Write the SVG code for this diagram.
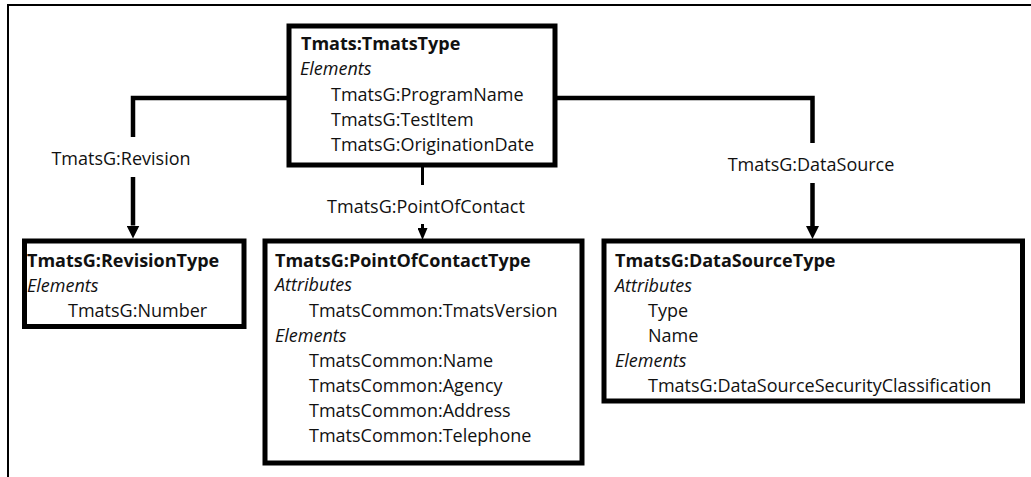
<svg xmlns="http://www.w3.org/2000/svg" width="1031" height="477" viewBox="0 0 1031 477">
<style>
.bg{fill:#fff}
.frame{fill:none;stroke:#000;stroke-width:2}
.box{fill:#fff;stroke:#000;stroke-width:5}
.t{font-family:"Open Sans","Noto Sans",sans-serif;font-size:18px;fill:#111}
.b{font-weight:bold}
.i{font-style:italic}
.lbl{text-anchor:middle}
.conn{fill:none;stroke:#000;stroke-width:4.5;stroke-linejoin:miter}
.thin{stroke-width:3}
</style>
<defs>
<marker id="arr" markerUnits="userSpaceOnUse" markerWidth="13" markerHeight="13" viewBox="0 0 13 13" refX="0" refY="6.5" orient="auto">
<path d="M0,0 L13,6.5 L0,13 Z" fill="#000"/>
</marker>
<marker id="arrs" markerUnits="userSpaceOnUse" markerWidth="12" markerHeight="10" viewBox="0 0 12 10" refX="0" refY="5" orient="auto">
<path d="M0,0 L12,5 L0,10 Z" fill="#000"/>
</marker>
</defs>
<rect class="bg" x="0" y="0" width="1031" height="477"/>
<path class="frame" d="M8,477 V5 H1031"/>

<g id="connectors">
<path class="conn" d="M289,98 H133 V137"/>
<path class="conn" d="M133,177 V225.5" marker-end="url(#arr)"/>
<text class="t lbl" x="121" y="165">TmatsG:Revision</text>
<path class="conn thin" d="M422.5,165 V185"/>
<path class="conn thin" d="M422.5,224 V228" marker-end="url(#arrs)"/>
<text class="t lbl" x="426" y="213">TmatsG:PointOfContact</text>
<path class="conn" d="M555,98 H812.5 V143"/>
<path class="conn" d="M812.5,183 V226" marker-end="url(#arr)"/>
<text class="t lbl" x="811" y="171">TmatsG:DataSource</text>
</g>

<g id="node-tmatstype">
<rect class="box" x="289" y="26" width="266" height="139"/>
<text class="t b" x="301" y="50">Tmats:TmatsType</text>
<text class="t i" x="300" y="75">Elements</text>
<text class="t" x="331" y="101">TmatsG:ProgramName</text>
<text class="t" x="331" y="126">TmatsG:TestItem</text>
<text class="t" x="331" y="151">TmatsG:OriginationDate</text>
</g>

<g id="node-revisiontype">
<rect class="box" x="24.5" y="241" width="219.5" height="85.5"/>
<text class="t b" x="27" y="267">TmatsG:RevisionType</text>
<text class="t i" x="27" y="292">Elements</text>
<text class="t" x="68" y="317">TmatsG:Number</text>
</g>

<g id="node-pointofcontacttype">
<rect class="box" x="265" y="241" width="317" height="222"/>
<text class="t b" x="275" y="267">TmatsG:PointOfContactType</text>
<text class="t i" x="275" y="291">Attributes</text>
<text class="t" x="309" y="317">TmatsCommon:TmatsVersion</text>
<text class="t i" x="275" y="342">Elements</text>
<text class="t" x="309" y="367">TmatsCommon:Name</text>
<text class="t" x="309" y="392">TmatsCommon:Agency</text>
<text class="t" x="309" y="417">TmatsCommon:Address</text>
<text class="t" x="309" y="442">TmatsCommon:Telephone</text>
</g>

<g id="node-datasourcetype">
<rect class="box" x="604" y="241" width="418.5" height="160"/>
<text class="t b" x="615" y="267">TmatsG:DataSourceType</text>
<text class="t i" x="615" y="292">Attributes</text>
<text class="t" x="648" y="317">Type</text>
<text class="t" x="648" y="342">Name</text>
<text class="t i" x="615" y="367">Elements</text>
<text class="t" x="648" y="392">TmatsG:DataSourceSecurityClassification</text>
</g>
</svg>
